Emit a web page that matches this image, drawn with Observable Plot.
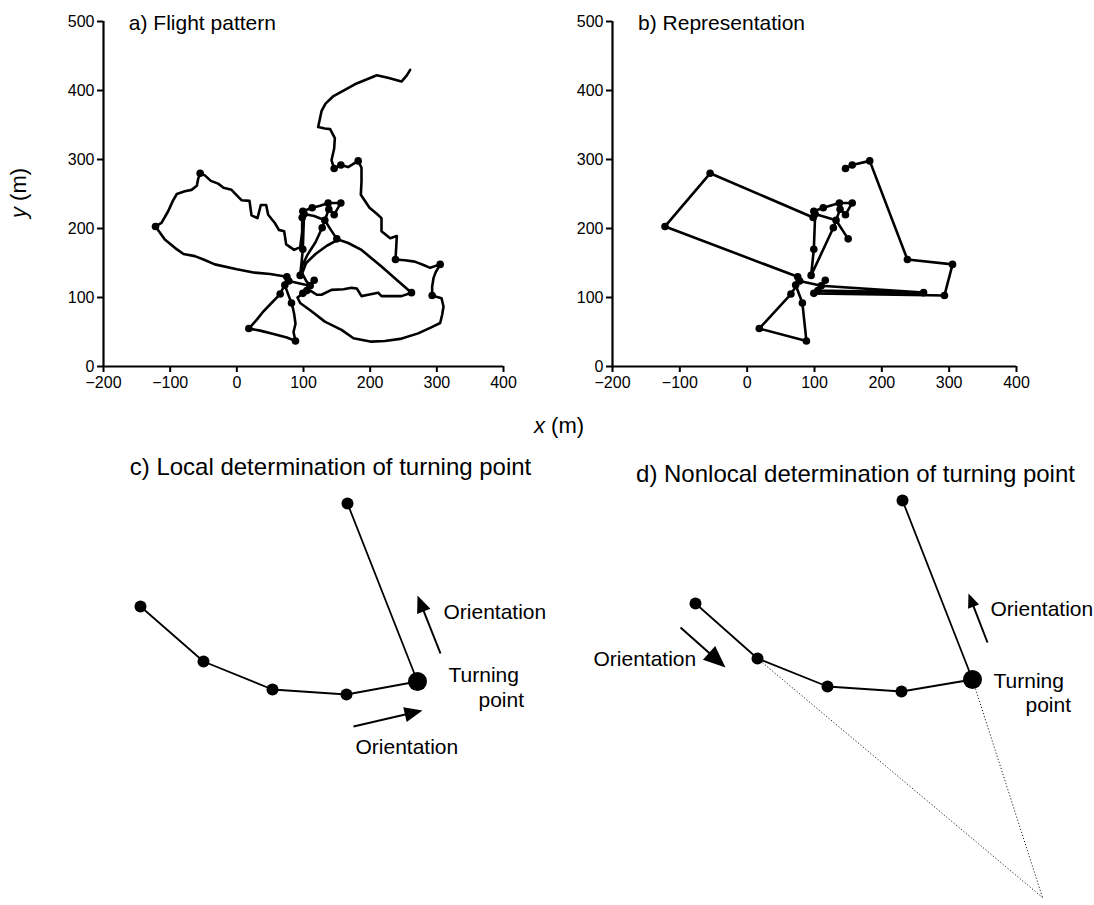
<!DOCTYPE html>
<html><head><meta charset="utf-8">
<script src="https://cdn.jsdelivr.net/npm/d3@7"></script>
<script src="https://cdn.jsdelivr.net/npm/@observablehq/plot@0.6"></script>
<style>
body{margin:0;background:#fff;}
#fig{position:relative;width:1094px;height:905px;font-family:"Liberation Sans",Arial,Helvetica,sans-serif;color:#000;background:#fff;}
.panel{position:absolute;}
.lab{position:absolute;font-size:22px;white-space:nowrap;line-height:1;}
</style></head><body><div id="fig"></div>
<script>
// ---------- data: top panels (metres) ----------
const xTicks = [-200, -100, 0, 100, 200, 300, 400];
const yTicks = [0, 100, 200, 300, 400, 500];
const panelTitles = ["a) Flight pattern", "b) Representation"];

// turning points, in flight order (dots in a, polyline in b)
const turningPoints = [
  [146,287],[156,292],[182,298],[238,155],[305,148],[293,103],
  [99,106],[116,125],[105,110],[262,107],[110,117],[78,124],[65,105],
  [18,55],[88,37],[82,92],[72,118],[75,130],[-122,203],[-55,280],
  [98,216],[99,225],[113,230],[137,237],[156,237],[146,220],[138,228],[128,201],
  [95,132],[99,170],[101,221],[132,212],[150,185]
];
// intermediate flight-track points leading into each turning point
const legs = [
  [[260,430],[255,422],[247,413],[228,418],[210,422],[177,409],[145,392],[133,381],[127,370],[122,347],[132,345],[140,344],[147,331],[146,316],[142,299]],
  [],
  [[167,289]],
  [[187,288],[187,268],[186,249],[199,230],[209,222],[217,215],[217,196],[230,186],[240,189],[239,172]],
  [[252,154],[267,152],[280,147],[290,143]],
  [[298,136],[295,128],[293,116]],
  [[307,99],[310,87],[308,75],[305,63],[290,56],[272,48],[245,40],[222,37],[202,36],[175,41],[157,53],[132,65],[112,80],[95,92],[91,100]],
  [[107,116]],
  [],
  [[112,109],[120,104],[127,104],[142,111],[160,112],[172,114],[180,113],[187,102],[197,104],[212,107],[217,102],[247,102]],
  [[237,128],[217,145],[202,157],[187,169],[167,179],[152,184],[135,175],[118,163],[104,150],[98,135],[104,124]],
  [[96,120]],
  [[70,115]],
  [[52,92],[40,80],[30,68]],
  [[35,52],[55,47],[75,42]],
  [[85,50],[88,62],[86,76],[84,85]],
  [[78,102]],
  [],
  [[50,134],[27,136],[0,141],[-33,148],[-50,155],[-63,160],[-80,163],[-93,172],[-108,184]],
  [[-113,208],[-103,225],[-96,240],[-90,250],[-78,254],[-68,256],[-60,262],[-58,272]],
  [[-48,277],[-39,269],[-28,265],[-20,259],[-8,256],[0,248],[7,241],[19,240],[22,219],[31,215],[36,234],[44,234],[47,220],[57,208],[63,198],[71,196],[74,177],[86,169],[95,173],[98,195]],
  [],
  [],
  [[125,233]],
  [],
  [],
  [],
  [],
  [[118,180],[106,162],[98,146]],
  [[97,150]],
  [[100,200]],
  [[116,218]],
  [[141,198]]
];
const flightPath = turningPoints.flatMap((tp, i) => [...legs[i], tp]);

// ---------- data: schematic panels (diagram units) ----------
const cTitle = "c) Local determination of turning point";
const dTitle = "d) Nonlocal determination of turning point";
const cPoints = [[40,169],[103,114],[172,86],[246,81],[317,94],[247,272]];
const cTurn = [317,94];
const cArrows = [{tail:[340,122], tip:[317,180], len:17}, {tail:[253,49], tip:[322,65], len:18}];
const cLabels = [
  {x:343, y:163, text:"Orientation"},
  {x:348, y:100, text:"Turning"},
  {x:378, y:75, text:"point"},
  {x:255, y:28, text:"Orientation"}
];
const dPoints = [[115,302],[177,247],[247,219],[321,214],[392,226],[322,405]];
const dTurn = [392,226];
const dApex = [462,8];
const dSight = [[177,247],[392,226]];
const dArrows = [{tail:[100,278], tip:[145,238], len:22}, {tail:[407,263], tip:[388,312], len:14}];
const dLabels = [
  {x:13, y:246, text:"Orientation"},
  {x:410, y:296, text:"Orientation"},
  {x:413, y:224, text:"Turning"},
  {x:445, y:200, text:"point"}
];

// ---------- drawing ----------
const FONT = '"Liberation Sans", Arial, Helvetica, sans-serif';
const fig = document.getElementById("fig");
function place(node, left, top) {
  const wrap = document.createElement("div");
  wrap.className = "panel";
  wrap.style.left = left + "px";
  wrap.style.top = top + "px";
  wrap.appendChild(node);
  fig.appendChild(wrap);
}

function topPanel(title, showTrack, frameW) {
  const marks = [
    Plot.axisX({ticks: xTicks, tickSize: 6, tickPadding: 4, strokeWidth: 2, label: null, fontSize: 16}),
    Plot.axisY({ticks: yTicks, tickSize: 6, tickPadding: 3, strokeWidth: 2, label: null, fontSize: 16}),
    Plot.ruleX([-200], {y1: 0, y2: 500, strokeWidth: 2.2}),
    Plot.ruleY([0], {x1: -200, x2: 400, strokeWidth: 2.2}),
    Plot.line(showTrack ? flightPath : turningPoints, {x: d => d[0], y: d => d[1], stroke: "#000", strokeWidth: 2.6, strokeLinejoin: "round", strokeLinecap: "round"}),
    Plot.dot(turningPoints, {x: d => d[0], y: d => d[1], r: 3.8, fill: "#000", stroke: "none"}),
    Plot.text([title], {x: -162, y: 497, text: d => d, textAnchor: "start", lineAnchor: "middle", fontSize: 21})
  ];
  return Plot.plot({
    width: 103 + frameW + 37, height: 400,
    marginLeft: 103, marginRight: 37, marginTop: 21, marginBottom: 34,
    x: {domain: [-200, 400]},
    y: {domain: [0, 500]},
    style: {fontFamily: FONT, fontSize: "16px", color: "#000", background: "none", overflow: "visible"},
    marks
  });
}

place(topPanel(panelTitles[0], true, 400), 0, 0);
place(topPanel(panelTitles[1], false, 404), 509, 0);

// axis labels
const xl = document.createElement("div");
xl.className = "lab";
xl.innerHTML = "<i>x</i> (m)";
xl.style.left = "534px"; xl.style.top = "415px";
fig.appendChild(xl);
const yl = document.createElement("div");
yl.className = "lab";
yl.innerHTML = "<i>y</i> (m)";
yl.style.left = "-6px"; yl.style.top = "182px";
yl.style.transform = "rotate(-90deg)";
fig.appendChild(yl);

// arrowhead symbol: tip at origin, pointing up
const headSymbol = {
  draw(ctx, size) {
    const L = Math.sqrt(size), w = L * 0.42;
    ctx.moveTo(0, 0); ctx.lineTo(w, L); ctx.lineTo(-w, L); ctx.closePath();
  }
};
function arrowMarks(arrows) {
  const out = [];
  for (const a of arrows) {
    const dx = a.tip[0] - a.tail[0], dy = a.tip[1] - a.tail[1];
    const n = Math.hypot(dx, dy);
    const base = [a.tip[0] - dx / n * a.len * 0.8, a.tip[1] - dy / n * a.len * 0.8];
    out.push(Plot.link([[a.tail, base]], {x1: d => d[0][0], y1: d => d[0][1], x2: d => d[1][0], y2: d => d[1][1], stroke: "#000", strokeWidth: 2}));
    out.push(Plot.dot([a.tip], {x: d => d[0], y: d => d[1], symbol: headSymbol, r: a.len / Math.sqrt(Math.PI), fill: "#000", stroke: "none", rotate: Math.atan2(dx, dy) * 180 / Math.PI}));
  }
  return out;
}
function diagram(w, h, title, titleX, titleY, pts, turn, arrows, labels, extra) {
  return Plot.plot({
    width: w, height: h, margin: 0,
    x: {domain: [0, w], range: [0, w], axis: null},
    y: {domain: [0, h], range: [h, 0], axis: null},
    style: {fontFamily: FONT, fontSize: "21px", color: "#000", background: "none", overflow: "visible"},
    marks: [
      ...extra,
      Plot.line(pts, {x: d => d[0], y: d => d[1], stroke: "#000", strokeWidth: 1.8}),
      Plot.dot(pts.filter(p => p !== turn), {x: d => d[0], y: d => d[1], r: 6, fill: "#000", stroke: "none"}),
      Plot.dot([turn], {x: d => d[0], y: d => d[1], r: 9.5, fill: "#000", stroke: "none"}),
      ...arrowMarks(arrows),
      Plot.text(labels, {x: "x", y: "y", text: "text", textAnchor: "start", lineAnchor: "middle", fontSize: 21}),
      Plot.text([title], {x: titleX, y: titleY, text: d => d, textAnchor: "middle", lineAnchor: "middle", fontSize: 24})
    ]
  });
}

cPoints[4] = cTurn;
dPoints[4] = dTurn;
place(diagram(480, 320, cTitle, 230, 308, cPoints, cTurn, cArrows, cLabels, []), 100, 455);
const sightLines = Plot.link(dSight, {x1: d => d[0], y1: d => d[1], x2: () => dApex[0], y2: () => dApex[1], stroke: "#222", strokeWidth: 1, strokeDasharray: "1.2,2"});
place(diagram(514, 450, dTitle, 275, 431, dPoints, dTurn, dArrows, dLabels, [sightLines]), 580, 455);
</script></body></html>
